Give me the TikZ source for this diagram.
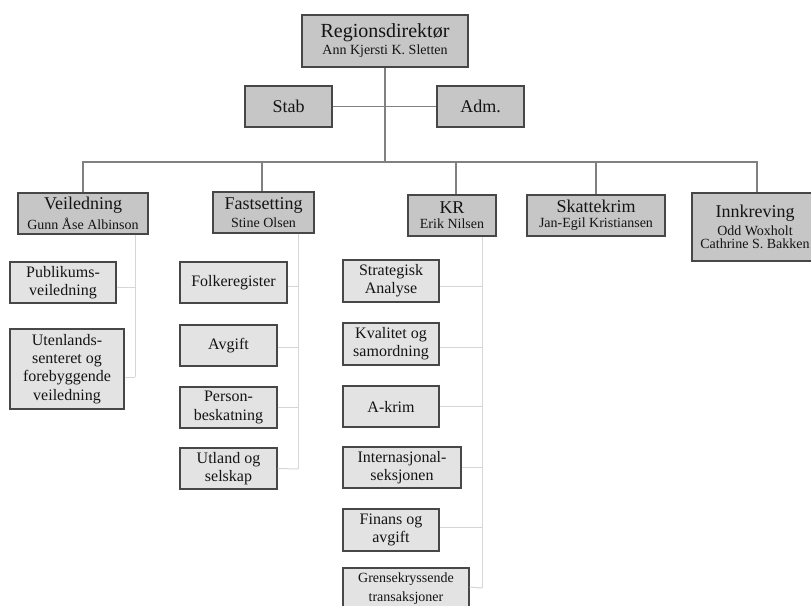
\documentclass[tikz,border=0pt]{standalone}
\usepackage{fontspec}
\setmainfont{Liberation Serif}
\newcommand\unitname[2]{{\fontsize{18}{18}\selectfont #1}\\[3pt]{\fontsize{14}{16}\selectfont #2}}
\begin{document}
\begin{tikzpicture}[x=1pt,y=-1pt,
  box/.style={draw=black!72, line width=1.1pt, inner sep=0pt, align=center, text=black!92},
  headbox/.style={box, fill=gray!45},
  subbox/.style={box, fill=gray!22, font=\fontsize{16}{18.3}\selectfont},
  trunk/.style={draw=black!50, line width=1.8pt},
  twig/.style={draw=black!16, line width=1pt}]
\useasboundingbox (0,0) rectangle (811,605);
\fill[white] (0,0) rectangle (811,605);
\clip (0,0) rectangle (811,605);

% top management
\node[headbox, minimum width=166pt, minimum height=52pt] (rd) at (385,41)
  {{\fontsize{20}{20}\selectfont Regionsdirektør}\\[2pt]{\fontsize{14}{16}\selectfont Ann Kjersti K. Sletten}};
\node[headbox, minimum width=87pt, minimum height=41pt, font=\fontsize{18}{20}\selectfont] (stab) at (288.5,106.5) {Stab};
\node[headbox, minimum width=87pt, minimum height=41pt, font=\fontsize{18}{20}\selectfont] (adm) at (480.5,106.5) {Adm.};

% divisions
\node[headbox, minimum width=130pt, minimum height=41pt] (vei) at (83,213.5) {\unitname{Veiledning}{Gunn Åse Albinson}};
\node[headbox, minimum width=101pt, minimum height=41pt] (fast) at (263.5,212.5) {\unitname{Fastsetting}{Stine Olsen}};
\node[headbox, minimum width=88pt, minimum height=41pt] (kr) at (452,215.5) {\unitname{KR}{Erik Nilsen}};
\node[headbox, minimum width=138pt, minimum height=41pt] (skat) at (596,215.5) {\unitname{Skattekrim}{Jan-Egil Kristiansen}};
\node[headbox, minimum width=126pt, minimum height=68pt] (innk) at (755,227)
  {{\fontsize{18}{18}\selectfont Innkreving}\\[3pt]{\fontsize{14}{16}\selectfont Odd Woxholt}\\[1pt]{\fontsize{14}{16}\selectfont Cathrine S. Bakken}};

% sections under Veiledning
\node[subbox, minimum width=106pt, minimum height=41pt] (pub) at (63,282.5) {Publikums-\\veiledning};
\node[subbox, minimum width=114pt, minimum height=80pt] (ute) at (67,369) {Utenlands-\\senteret og\\forebyggende\\veiledning};

% sections under Fastsetting
\node[subbox, minimum width=107pt, minimum height=41pt] (folk) at (233.5,282.5) {Folkeregister};
\node[subbox, minimum width=97pt, minimum height=41pt] (avg) at (228.5,345.5) {Avgift};
\node[subbox, minimum width=97pt, minimum height=41pt] (pers) at (228.5,407.5) {Person-\\beskatning};
\node[subbox, minimum width=97pt, minimum height=41pt] (utl) at (228.5,468.5) {Utland og\\selskap};

% sections under KR
\node[subbox, minimum width=96pt, minimum height=42pt] (strat) at (391,281) {Strategisk\\Analyse};
\node[subbox, minimum width=96pt, minimum height=42pt] (kval) at (391,344) {Kvalitet og\\samordning};
\node[subbox, minimum width=96pt, minimum height=41pt] (akrim) at (391,406.5) {A-krim};
\node[subbox, minimum width=118pt, minimum height=41pt] (intl) at (402,467.5) {Internasjonal-\\seksjonen};
\node[subbox, minimum width=96pt, minimum height=42pt] (fin) at (391,530) {Finans og\\avgift};
\node[subbox, minimum width=126pt, minimum height=41pt, font=\fontsize{14}{18.3}\selectfont] (gren) at (406,588.5) {Grensekryssende\\transaksjoner};

% main lines
\coordinate (bus) at (385,162);
\draw[trunk] (rd.south) -- (bus);
\draw[trunk] (stab.east) -- (adm.west);
\draw[trunk] (vei.north) -- (vei.north |- bus) -- ([xshift=2pt]innk.north |- bus) -- ([xshift=2pt]innk.north);
\draw[trunk] ([xshift=-1.5pt]fast.north) -- ([xshift=-1.5pt]fast.north |- bus);
\draw[trunk] ([xshift=4pt]kr.north) -- ([xshift=4pt]kr.north |- bus);
\draw[trunk] (skat.north) -- (skat.north |- bus);

% section spines
\coordinate (vspine) at (135,377);
\coordinate (fspine) at (298,469);
\coordinate (kspine) at (482,588);
\draw[twig] (vei.south -| vspine) -- (vspine);
\draw[twig] ([yshift=-4.5pt]pub.east) -- ([yshift=-4.5pt]pub.east -| vspine);
\draw[twig] ([yshift=-8pt]ute.east) -- (vspine);

\draw[twig] (fast.south -| fspine) -- (fspine);
\draw[twig] ([yshift=-3.5pt]folk.east) -- ([yshift=-3.5pt]folk.east -| fspine);
\draw[twig] ([yshift=-1.5pt]avg.east) -- ([yshift=-1.5pt]avg.east -| fspine);
\draw[twig] (pers.east) -- (pers.east -| fspine);
\draw[twig] (utl.east) -- (fspine);

\draw[twig] (kr.south -| kspine) -- (kspine);
\draw[twig] ([yshift=-5pt]strat.east) -- ([yshift=-5pt]strat.east -| kspine);
\draw[twig] ([yshift=-3pt]kval.east) -- ([yshift=-3pt]kval.east -| kspine);
\draw[twig] (akrim.east) -- (akrim.east -| kspine);
\draw[twig] (intl.east) -- (intl.east -| kspine);
\draw[twig] ([yshift=3pt]fin.east) -- ([yshift=3pt]fin.east -| kspine);
\draw[twig] ([yshift=1.5pt]gren.east) -- (kspine);
\end{tikzpicture}
\end{document}
